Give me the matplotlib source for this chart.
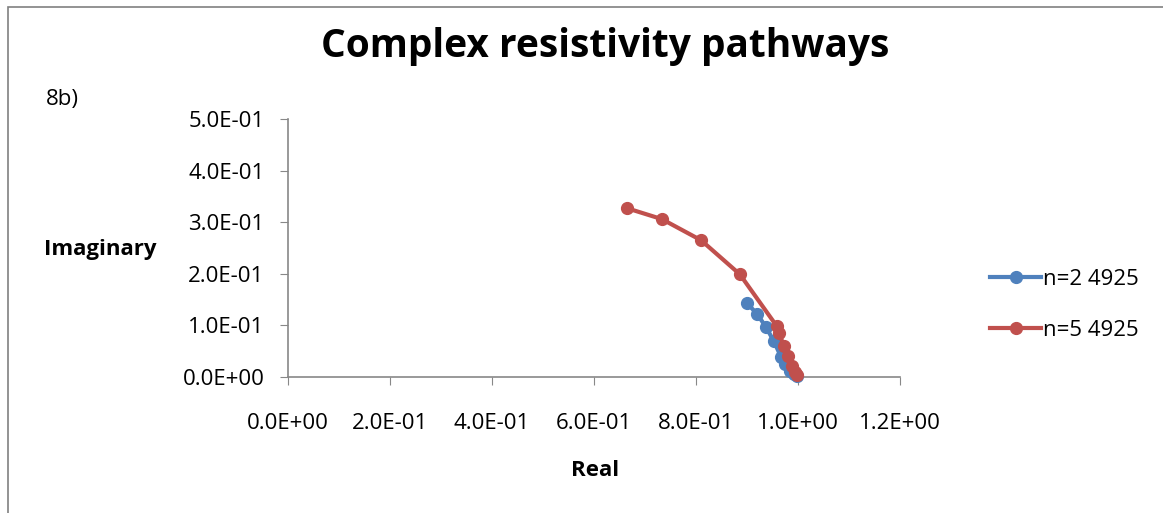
import matplotlib
matplotlib.use("Agg")
import matplotlib.pyplot as plt
from matplotlib.patches import Rectangle
from matplotlib.lines import Line2D

# Data
blue_label = "n=2 4925"
blue_real = [0.900, 0.920, 0.937, 0.953, 0.967, 0.975, 0.985, 0.993, 0.998]
blue_imag = [0.143, 0.122, 0.097, 0.069, 0.038, 0.025, 0.012, 0.005, 0.002]

red_label = "n=5 4925"
red_real = [0.665, 0.733, 0.810, 0.886, 0.958, 0.963, 0.972, 0.980, 0.988, 0.994, 0.998]
red_imag = [0.327, 0.306, 0.265, 0.199, 0.099, 0.085, 0.061, 0.041, 0.021, 0.010, 0.004]

x_ticks = [0.0, 0.2, 0.4, 0.6, 0.8, 1.0, 1.2]
x_tick_labels = ["0.0E+00", "2.0E-01", "4.0E-01", "6.0E-01", "8.0E-01", "1.0E+00", "1.2E+00"]
y_ticks = [0.0, 0.1, 0.2, 0.3, 0.4, 0.5]
y_tick_labels = ["0.0E+00", "1.0E-01", "2.0E-01", "3.0E-01", "4.0E-01", "5.0E-01"]

W, H = 1163, 513
fig = plt.figure(figsize=(W / 100, H / 100), dpi=100)
plt.rcParams['font.family'] = ['Open Sans', 'DejaVu Sans']

# outer border
fig.patches.append(Rectangle((8 / W, -0.1), 1.2, 1 - 7 / H + 0.1, transform=fig.transFigure,
                             fill=False, edgecolor="#808080", linewidth=1.2))

ax = fig.add_axes([288 / W, 1 - 377 / H, (900 - 288) / W, (377 - 119) / H])
blue = "#4F81BD"
red = "#C0504D"
ax.plot(blue_real, blue_imag, color=blue, lw=3, marker="o", ms=8.5, clip_on=False, zorder=3)
ax.plot(red_real, red_imag, color=red, lw=3, marker="o", ms=8.5, clip_on=False, zorder=4)

ax.set_xlim(0, 1.2)
ax.set_ylim(0, 0.5)
ax.set_xticks(x_ticks)
ax.set_xticklabels(x_tick_labels)
ax.set_yticks(y_ticks)
ax.set_yticklabels(y_tick_labels)
for s in ["top", "right"]:
    ax.spines[s].set_visible(False)
for s in ["left", "bottom"]:
    ax.spines[s].set_color("#888888")
    ax.spines[s].set_linewidth(1.2)
ax.tick_params(axis="x", direction="out", length=6, color="#888888", labelsize=16, pad=20)
ax.tick_params(axis="y", direction="out", length=6, color="#888888", labelsize=16, pad=11)

fig.text(605 / W, 1 - 46 / H, "Complex resistivity pathways", ha="center", va="center",
         fontsize=28, fontweight="bold")
fig.text(46 / W, 1 - 100 / H, "8b)", ha="left", va="center", fontsize=16)
fig.text(100 / W, 1 - 249 / H, "Imaginary", ha="center", va="center", fontsize=16, fontweight="bold")
fig.text(595 / W, 1 - 471 / H, "Real", ha="center", va="center", fontsize=16, fontweight="bold")

handles = [Line2D([], [], color=blue, lw=3, marker="o", ms=8.5),
           Line2D([], [], color=red, lw=3, marker="o", ms=8.5)]
fig.legend(handles, [blue_label, red_label], loc="center left",
           bbox_to_anchor=(970 / W, 1 - 305 / H), frameon=False, fontsize=16,
           handlelength=2.3, handletextpad=0.1, labelspacing=1.35)

fig.savefig("out.png", dpi=100)
